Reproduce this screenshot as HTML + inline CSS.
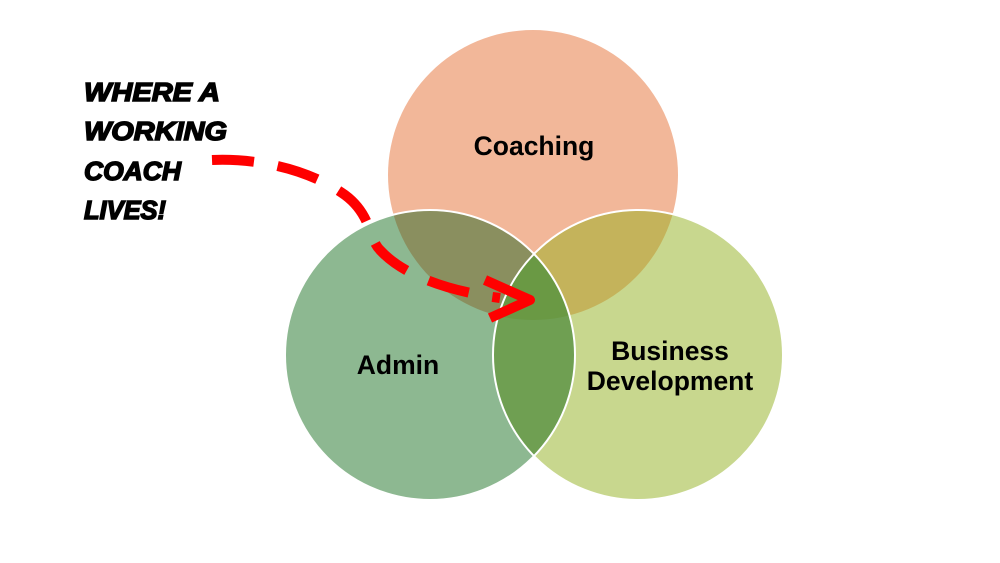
<!DOCTYPE html>
<html><head><style>html,body{margin:0;padding:0;background:#fff;width:1000px;height:563px;overflow:hidden}</style></head>
<body>
<svg width="1000" height="563" viewBox="0 0 1000 563" xmlns="http://www.w3.org/2000/svg">
<defs>
<clipPath id="cC"><circle cx="533" cy="175" r="145"/></clipPath>
<clipPath id="cA"><circle cx="430" cy="355" r="145"/></clipPath>
<clipPath id="cB"><circle cx="638" cy="355" r="145"/></clipPath>
</defs>
<circle cx="533" cy="175" r="145" fill="#f2b799"/>
<circle cx="430" cy="355" r="145" fill="#8db891"/>
<circle cx="430" cy="355" r="145" fill="#8a8f5f" clip-path="url(#cC)"/>
<circle cx="638" cy="355" r="145" fill="#c8d78e"/>
<g clip-path="url(#cB)">
<circle cx="533" cy="175" r="145" fill="#c4b35b"/>
<circle cx="430" cy="355" r="145" fill="#6f9f52"/>
<g clip-path="url(#cC)"><circle cx="430" cy="355" r="145" fill="#6a9944"/></g>
</g>
<circle cx="430" cy="355" r="145" fill="none" stroke="#fff" stroke-width="2"/>
<circle cx="638" cy="355" r="145" fill="none" stroke="#fff" stroke-width="2"/>
<g font-family="Liberation Sans, sans-serif" font-weight="bold" font-size="26.5" fill="#000" text-anchor="middle">
<text x="534" y="155">Coaching</text>
<text x="398" y="374">Admin</text>
<text x="670" y="360">Business</text>
<text x="670" y="390">Development</text>
</g>
<g font-family="Liberation Sans, sans-serif" font-weight="bold" font-style="italic" font-size="26" fill="#000" stroke="#000" stroke-width="1.5">
<text x="84" y="101" textLength="136" lengthAdjust="spacingAndGlyphs">WHERE A</text>
<text x="84" y="140" textLength="143" lengthAdjust="spacingAndGlyphs">WORKING</text>
<text x="84" y="180" textLength="97" lengthAdjust="spacingAndGlyphs">COACH</text>
<text x="84" y="219" textLength="82" lengthAdjust="spacingAndGlyphs">LIVES!</text>
</g>
<path d="M212,160 C260,158 310,170 345,195 C372,215 368,238 380,250 C400,272 440,290 500,298" fill="none" stroke="#f00" stroke-width="10" stroke-dasharray="42,24"/>
<path d="M485,280 L530,300 L490,318" fill="none" stroke="#f00" stroke-width="10" stroke-linejoin="round"/>
</svg>
</body></html>
